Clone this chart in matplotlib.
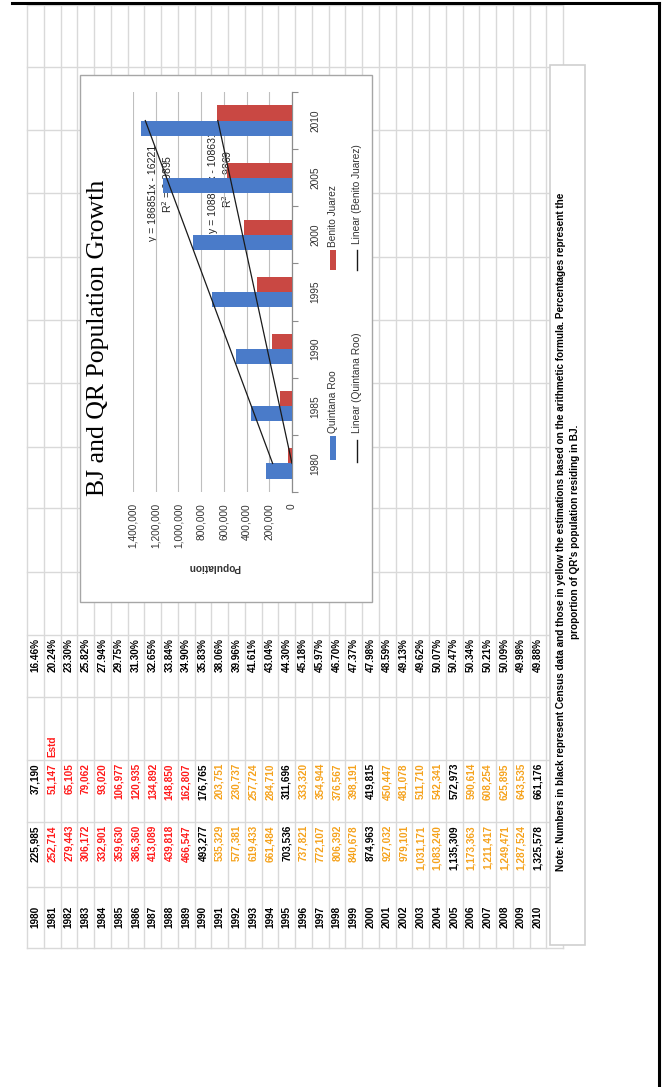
import matplotlib
matplotlib.use("Agg")
import matplotlib.pyplot as plt
import numpy as np
from matplotlib.patches import Rectangle

# ---------------- data ----------------
years = list(range(1980, 2011))
qr_pop = [225985, 252714, 279443, 306172, 332901, 359630, 386360, 413089, 439818, 466547,
          493277, 535329, 577381, 619433, 661484, 703536, 737821, 772107, 806392, 840678,
          874963, 927032, 979101, 1031171, 1083240, 1135309, 1173363, 1211417, 1249471,
          1287524, 1325578]
bj_pop = [37190, 51147, 65105, 79062, 93020, 106977, 120935, 134892, 148850, 162807,
          176765, 203751, 230737, 257724, 284710, 311696, 333320, 354944, 376567, 398191,
          419815, 450447, 481078, 511710, 542341, 572973, 590614, 608254, 625895, 643535,
          661176]
census_years = [1980, 1990, 1995, 2000, 2005, 2010]
red_years = list(range(1981, 1990))
estimate_flag_year = 1981

chart_years = [1980, 1985, 1990, 1995, 2000, 2005, 2010]
value_ticks = [0, 200000, 400000, 600000, 800000, 1000000, 1200000, 1400000]

qr_trend = (186851, -16221)
bj_trend = (108822, -108631)
qr_r2 = "0.9895"
bj_r2 = "0.9869"

title = "BJ and QR Population Growth"
note_lines = [
    "Note: Numbers in black represent Census data and those in yellow the estimations "
    "based on the arithmetic formula. Percentages represent the",
    "proportion of QR's population residing in BJ.",
]

# ---------------- figure ----------------
W, H = 662, 1087
fig = plt.figure(figsize=(W / 100, H / 100), dpi=100)
fig.patch.set_facecolor("white")

# page-level axes in pixel units (y down)
bg = fig.add_axes([0, 0, 1, 1])
bg.set_xlim(0, W)
bg.set_ylim(H, 0)
bg.axis("off")

grid_col = "#d9d9d9"
grid_x0, grid_step, grid_n = 27, 16.75, 33
grid_right = grid_x0 + grid_step * (grid_n - 1)
h_lines = [5, 67, 130, 193, 257, 320, 383, 447, 508, 572, 635, 697, 760, 822, 887, 948]
for k in range(grid_n):
    x = grid_x0 + grid_step * k
    bg.plot([x, x], [h_lines[0], h_lines[-1]], color=grid_col, lw=1.0, zorder=1)
for y in h_lines:
    bg.plot([grid_x0, grid_right], [y, y], color=grid_col, lw=1.0, zorder=1)

# page border
bg.plot([12, 659], [3, 3], color="black", lw=2.2, zorder=5)
bg.plot([659, 659], [3, H], color="black", lw=2.2, zorder=5)

# table (rows run left to right, text turned 90 degrees)
tfont = dict(family="Liberation Sans", weight="bold", fontsize=7.2, rotation=90)
for i, yr in enumerate(years):
    xc = grid_x0 + grid_step * (i + 0.5)
    if yr in census_years:
        col = "black"
    elif yr in red_years:
        col = "#ff1a1a"
    else:
        col = "#f5a21c"
    pct = bj_pop[i] / qr_pop[i] * 100
    bg.text(xc, 917, f"{yr}", color="black", ha="center", va="center", zorder=3, **tfont)
    bg.text(xc, 825, f"{qr_pop[i]:,}", color=col, ha="center", va="top", zorder=3, **tfont)
    bg.text(xc, 763, f"{bj_pop[i]:,}", color=col, ha="center", va="top", zorder=3, **tfont)
    bg.text(xc, 638, f"{pct:.2f}%", color="black", ha="center", va="top", zorder=3, **tfont)
    if yr == estimate_flag_year:
        bg.text(xc, 757, "Estd", color="#ff1a1a", ha="center", va="bottom", zorder=3,
                **tfont)

# note box
bg.add_patch(Rectangle((550, 65), 35, 880, facecolor="white", edgecolor="#cfcfcf",
                       lw=1.2, zorder=3))
for x, line in zip([561, 575], note_lines):
    bg.text(x, 532, line, ha="center", va="center", rotation=90, zorder=4,
            family="Liberation Sans", weight="bold", fontsize=7.2, color="black")

# chart area frame
bg.add_patch(Rectangle((80, 75), 292, 527, facecolor="white", edgecolor="#a6a6a6",
                       lw=1.0, zorder=6))

# ---------------- chart (drawn turned a quarter-turn) ----------------
px0, px1, py0, py1 = 133, 292, 92, 492
ax = fig.add_axes([px0 / W, 1 - py1 / H, (px1 - px0) / W, (py1 - py0) / H])
ax.set_zorder(7)
ax.patch.set_alpha(0)

pos = np.arange(len(chart_years))
qr_vals = [qr_pop[years.index(y)] for y in chart_years]
bj_vals = [bj_pop[years.index(y)] for y in chart_years]
bh = 0.265
ax.barh(pos - bh / 2, qr_vals, height=bh, color="#4a7bc9", zorder=3)
ax.barh(pos + bh / 2, bj_vals, height=bh, color="#c94843", zorder=3)

xs = np.array([1, len(chart_years)])
ax.plot(qr_trend[0] * xs + qr_trend[1], xs - 1, color="#1a1a1a", lw=0.9, zorder=4)
ax.plot(bj_trend[0] * xs + bj_trend[1], xs - 1, color="#1a1a1a", lw=0.9, zorder=4)

ax.set_xlim(1400000, 0)
ax.set_ylim(-0.5, len(chart_years) - 0.5)
ax.set_xticks(value_ticks)
ax.set_xticklabels([f"{v:,}" for v in value_ticks], rotation=90, ha="center", va="top",
                   family="Liberation Sans", fontsize=7.3, color="#333333")
ax.tick_params(axis="x", length=0, pad=8)
ax.xaxis.grid(True, color="#bfbfbf", lw=0.8, zorder=0)
ax.set_axisbelow(True)

ax.yaxis.tick_right()
ax.set_yticks(pos)
ax.set_yticklabels([str(y) for y in chart_years], rotation=90, va="center", ha="center",
                   family="Liberation Sans", fontsize=7.3, color="#333333")
ax.tick_params(axis="y", which="major", length=0, pad=17)
ax.set_yticks(np.arange(-0.5, len(chart_years)), minor=True)
ax.tick_params(axis="y", which="minor", length=4, color="#8c8c8c", width=0.8)
for s in ["top", "left", "bottom"]:
    ax.spines[s].set_visible(False)
ax.spines["right"].set_color("#8c8c8c")
ax.spines["right"].set_linewidth(0.9)

# titles, equations and legend in page pixels
bg.text(98, 338, title, rotation=90, ha="center", va="center", zorder=8,
        family="Liberation Serif", fontsize=18.5, color="black")
bg.text(214, 567, "Population", rotation=180, ha="center", va="center", zorder=8,
        family="Liberation Sans", weight="bold", fontsize=7.3, color="#333333")

eq_font = dict(family="Liberation Sans", fontsize=7.6, color="#222222", rotation=90,
               ha="center", va="center", zorder=8)
bg.text(153, 193, f"y = {qr_trend[0]}x - {abs(qr_trend[1])}", **eq_font)
bg.text(167, 184, f"R$^2$ = {qr_r2}", **eq_font)
bg.text(213, 182, f"y = {bj_trend[0]}x - {abs(bj_trend[1])}", **eq_font)
bg.text(227, 179, f"R$^2$ = {bj_r2}", **eq_font)

leg_font = dict(family="Liberation Sans", fontsize=7.3, color="#333333", rotation=90,
                ha="center", va="bottom", zorder=8)
bg.add_patch(Rectangle((330, 436), 6, 24, facecolor="#4a7bc9", zorder=8))
bg.text(333, 433, "Quintana Roo", **leg_font)
bg.add_patch(Rectangle((330, 250), 6, 20, facecolor="#c94843", zorder=8))
bg.text(333, 247, "Benito Juarez", **leg_font)
bg.plot([357, 357], [440, 462], color="#1a1a1a", lw=1.0, zorder=8)
bg.text(357, 433, "Linear (Quintana Roo)", **leg_font)
bg.plot([357, 357], [250, 270], color="#1a1a1a", lw=1.0, zorder=8)
bg.text(357, 244, "Linear (Benito Juarez)", **leg_font)

fig.savefig("out.png", dpi=100, facecolor="white")
